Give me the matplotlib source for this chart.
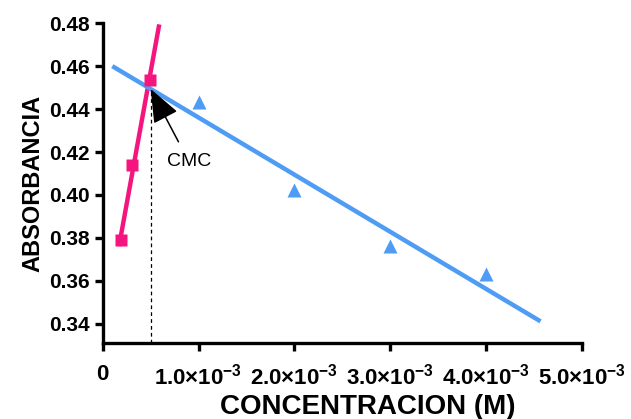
import numpy as np
import matplotlib
matplotlib.use("Agg")
import matplotlib.pyplot as plt

plt.rcParams['font.family'] = ['Liberation Sans', 'DejaVu Sans']
plt.rcParams['mathtext.fontset'] = 'custom'
plt.rcParams['mathtext.rm'] = 'Liberation Sans:bold'
plt.rcParams['mathtext.bf'] = 'Liberation Sans:bold'
plt.rcParams['mathtext.it'] = 'Liberation Sans:bold'

# Data
pink_x = [0.00019, 0.00031, 0.00049]
pink_y = [0.379, 0.414, 0.4535]
blue_x = [0.001, 0.002, 0.003, 0.004]
blue_y = [0.4433, 0.4021, 0.376, 0.3633]
pink_line_range = [0.00017, 0.00059]
blue_line_range = [0.0001, 0.00457]
cmc_x = 0.0005
x_ticks = [0, 0.001, 0.002, 0.003, 0.004, 0.005]
x_tick_labels = ['0', r'$1.0{\times}10^{-3}$', r'$2.0{\times}10^{-3}$', r'$3.0{\times}10^{-3}$',
                 r'$4.0{\times}10^{-3}$', r'$5.0{\times}10^{-3}$']
y_ticks = [0.34, 0.36, 0.38, 0.40, 0.42, 0.44, 0.46, 0.48]

pink_c = '#F5157F'
blue_c = '#4F9CF5'

fig = plt.figure(figsize=(6.31, 4.19), dpi=100)
ax = fig.add_axes([0.1628, 0.1814, 0.7591, 0.763])

# fits
pp = np.polyfit(pink_x, pink_y, 1)
bp = np.polyfit(blue_x, blue_y, 1)
px = np.array(pink_line_range)
bx = np.array(blue_line_range)
ax.plot(px, np.polyval(pp, px), color=pink_c, lw=3.2, solid_capstyle='butt', zorder=3)
ax.plot(bx, np.polyval(bp, bx), color=blue_c, lw=3.2, solid_capstyle='butt', zorder=3)
ax.plot(pink_x, pink_y, 's', color=pink_c, ms=8, mec='none', zorder=4)
ax.plot(blue_x, blue_y, '^', color=blue_c, ms=10.5, mec='none', zorder=4)

cmc_y = np.polyval(bp, cmc_x)
ax.plot([cmc_x, cmc_x], [0.331, cmc_y], color='black', lw=0.9, ls=(0, (3, 2.5)), zorder=2)

ax.annotate('CMC', xy=(cmc_x, cmc_y), xytext=(0.00090, 0.4155),
            fontsize=14, ha='center', va='center',
            arrowprops=dict(arrowstyle='-|>,head_length=1.5,head_width=0.6', color='black',
                            lw=1.1, shrinkA=7, shrinkB=0), zorder=5)

ax.set_xlim(0, 0.005)
ax.set_ylim(0.331, 0.48)
ax.set_xticks(x_ticks)
ax.set_xticklabels(x_tick_labels)
ax.set_yticks(y_ticks)
ax.set_yticklabels([f'{v:.2f}' for v in y_ticks])

for s in ['top', 'right']:
    ax.spines[s].set_visible(False)
for s in ['left', 'bottom']:
    ax.spines[s].set_linewidth(2.4)
ax.tick_params(axis='both', width=2.4, length=6)
ax.tick_params(axis='x', pad=9, labelsize=16)
ax.tick_params(axis='y', pad=3, labelsize=15)
for lab in ax.get_yticklabels() + ax.get_xticklabels():
    lab.set_fontweight('bold')

ax.set_xlabel('CONCENTRACION (M)', fontsize=20, fontweight='bold', va='center')
ax.xaxis.set_label_coords(0.554, -0.2)
ax.set_ylabel('ABSORBANCIA', fontsize=17, fontweight='bold', labelpad=4)

fig.savefig('out.png', dpi=100)
